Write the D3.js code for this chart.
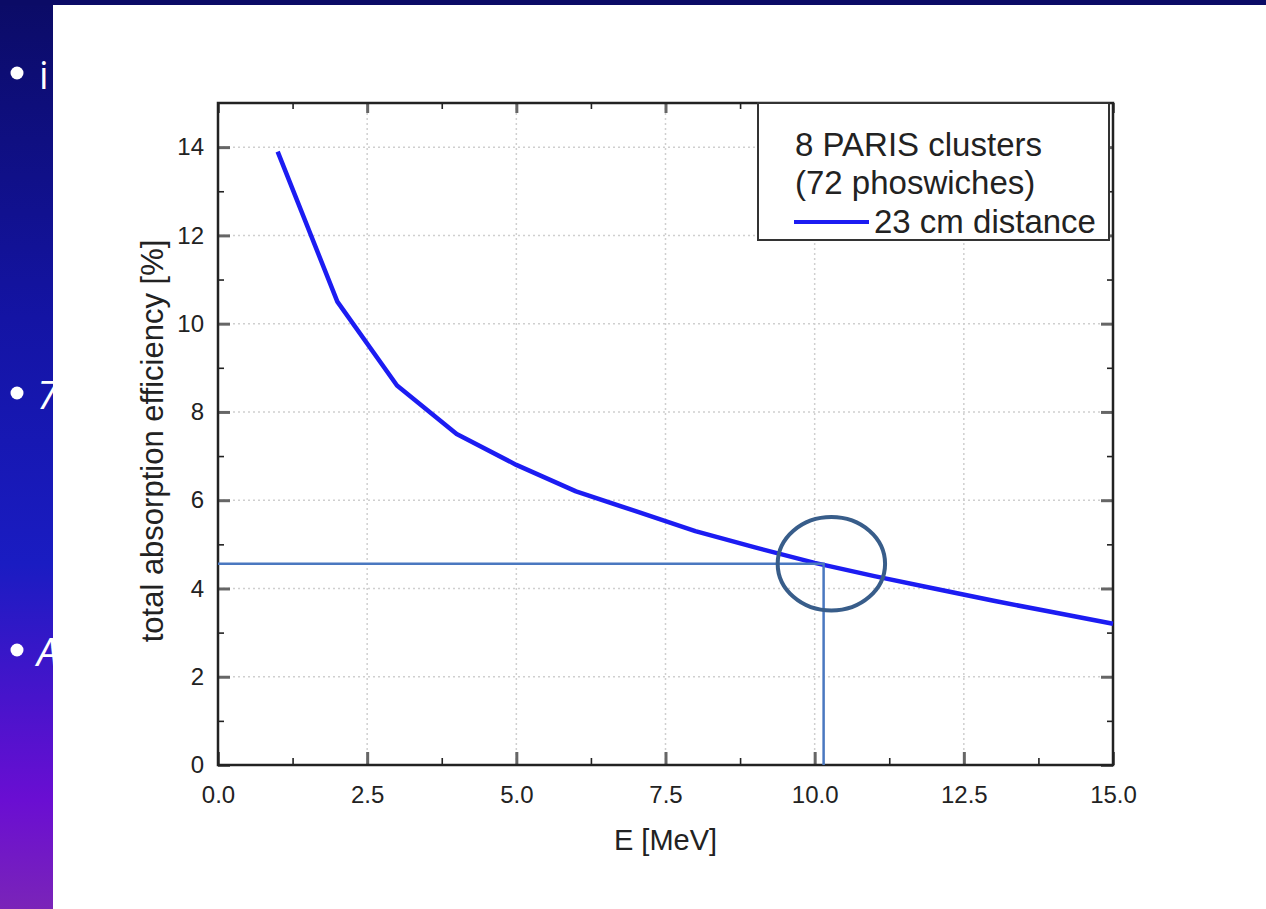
<!DOCTYPE html>
<html>
<head>
<meta charset="utf-8">
<script src="https://cdn.jsdelivr.net/npm/d3@7"></script>
<style>
  html, body { margin: 0; padding: 0; background: #ffffff; }
  svg { display: block; }
</style>
</head>
<body>
<div class="chart-container"></div>
<script>
// Data
const energies = [1, 2, 3, 4, 5, 6, 7, 8, 9, 10, 11, 12, 13, 14, 15];
const efficiency = [13.9, 10.5, 8.6, 7.5, 6.8, 6.2, 5.75, 5.3, 4.93, 4.58, 4.28, 4.0, 3.72, 3.46, 3.2];
const xTicks = [0, 2.5, 5, 7.5, 10, 12.5, 15];
const yTicks = [0, 2, 4, 6, 8, 10, 12, 14];
const legendTitle = ["8 PARIS clusters", "(72 phoswiches)"];
const seriesName = "23 cm distance";
const bullets = ["i", "7", "A"];
// the marked point (10 MeV read-off) and the circle around it
const markE = 10.15;
const markEff = 4.56;
const ringE = 10.28;

const width = 1266;
const height = 909;

// Plot area
const pLeft = 218, pRight = 1113, pTop = 103, pBottom = 765;

const svg = d3
  .select(".chart-container")
  .append("svg")
  .attr("width", width)
  .attr("height", height);

////// Slide background
const grad = svg.append("defs")
  .append("linearGradient")
  .attr("id", "slide-bg")
  .attr("x1", 0).attr("y1", 0).attr("x2", 0).attr("y2", 1);
grad.append("stop").attr("offset", "0%").attr("stop-color", "#0b0b66");
grad.append("stop").attr("offset", "35%").attr("stop-color", "#1414a4");
grad.append("stop").attr("offset", "62%").attr("stop-color", "#1a1cc2");
grad.append("stop").attr("offset", "88%").attr("stop-color", "#6a0ed2");
grad.append("stop").attr("offset", "100%").attr("stop-color", "#7a24b8");

svg.append("rect")
  .attr("width", width)
  .attr("height", height)
  .attr("fill", "url(#slide-bg)");

// bullet points of the slide, mostly hidden behind the picture
const bulletY = [89, 409, 666];
bullets.forEach((b, i) => {
  svg.append("circle")
    .attr("cx", 17)
    .attr("cy", bulletY[i] - 16)
    .attr("r", 6.5)
    .attr("fill", "white");
  svg.append("text")
    .attr("x", i === 0 ? 39 : 37)
    .attr("y", bulletY[i])
    .attr("fill", "white")
    .style("font-family", "'Open Sans', Lato, sans-serif")
    .style("font-size", "38px")
    .style("font-style", i === 0 ? "normal" : "italic")
    .text(b);
});

// white picture pasted on the slide
svg.append("rect")
  .attr("x", 53)
  .attr("y", 5)
  .attr("width", width - 53)
  .attr("height", height - 5)
  .attr("fill", "white");

////// Scales
const x = d3.scaleLinear().domain([0, 15]).range([pLeft, pRight]);
const y = d3.scaleLinear().domain([0, 15]).range([pBottom, pTop]);

const font = "'Liberation Sans', Arial, sans-serif";

// dotted grid
const g = svg.append("g");
g.selectAll(".gx")
  .data(xTicks.slice(1, -1))
  .enter()
  .append("line")
  .attr("x1", (d) => x(d)).attr("x2", (d) => x(d))
  .attr("y1", pTop).attr("y2", pBottom)
  .attr("stroke", "#cfcfcf")
  .attr("stroke-width", 1.5)
  .attr("stroke-dasharray", "2,3");
g.selectAll(".gy")
  .data(yTicks.slice(1))
  .enter()
  .append("line")
  .attr("x1", pLeft).attr("x2", pRight)
  .attr("y1", (d) => y(d)).attr("y2", (d) => y(d))
  .attr("stroke", "#cfcfcf")
  .attr("stroke-width", 1.5)
  .attr("stroke-dasharray", "2,3");

// Axes: ticks point inward on all four sides
const xMinor = d3.range(0, 15.01, 1.25).filter((v) => v % 2.5 !== 0);
const yMinor = d3.range(1, 15, 2);

function tickStyle(sel, major) {
  sel.selectAll(".tick line")
    .attr("stroke", major ? "#666" : "#222")
    .attr("stroke-width", major ? 3 : 1.6);
  sel.select(".domain").remove();
}

const xBottom = svg.append("g").attr("transform", `translate(0,${pBottom})`);
xBottom.call(d3.axisTop(x).tickValues(xTicks).tickSize(13).tickFormat(d3.format(".1f")));
tickStyle(xBottom, true);
xBottom.selectAll(".tick text")
  .attr("y", 38)
  .attr("fill", "#222")
  .style("font-family", font)
  .style("font-size", "24px");

const xBottomMinor = svg.append("g").attr("transform", `translate(0,${pBottom})`);
xBottomMinor.call(d3.axisTop(x).tickValues(xMinor).tickSize(7).tickFormat(""));
tickStyle(xBottomMinor, false);

const xTop = svg.append("g").attr("transform", `translate(0,${pTop})`);
xTop.call(d3.axisBottom(x).tickValues(xTicks).tickSize(10).tickFormat(""));
tickStyle(xTop, true);
const xTopMinor = svg.append("g").attr("transform", `translate(0,${pTop})`);
xTopMinor.call(d3.axisBottom(x).tickValues(xMinor).tickSize(6).tickFormat(""));
tickStyle(xTopMinor, false);

const yLeft = svg.append("g").attr("transform", `translate(${pLeft},0)`);
yLeft.call(d3.axisRight(y).tickValues(yTicks).tickSize(12).tickFormat(d3.format("d")));
tickStyle(yLeft, true);
yLeft.selectAll(".tick text")
  .attr("x", -14)
  .attr("text-anchor", "end")
  .attr("fill", "#222")
  .style("font-family", font)
  .style("font-size", "24px");

const yLeftMinor = svg.append("g").attr("transform", `translate(${pLeft},0)`);
yLeftMinor.call(d3.axisRight(y).tickValues(yMinor).tickSize(6).tickFormat(""));
tickStyle(yLeftMinor, false);

const yRight = svg.append("g").attr("transform", `translate(${pRight},0)`);
yRight.call(d3.axisLeft(y).tickValues(yTicks).tickSize(12).tickFormat(""));
tickStyle(yRight, true);
const yRightMinor = svg.append("g").attr("transform", `translate(${pRight},0)`);
yRightMinor.call(d3.axisLeft(y).tickValues(yMinor).tickSize(6).tickFormat(""));
tickStyle(yRightMinor, false);

// frame
svg.append("rect")
  .attr("x", pLeft).attr("y", pTop)
  .attr("width", pRight - pLeft).attr("height", pBottom - pTop)
  .attr("fill", "none")
  .attr("stroke", "#222")
  .attr("stroke-width", 2.5);

// Axis titles
svg.append("text")
  .attr("x", (pLeft + pRight) / 2)
  .attr("y", 850)
  .attr("text-anchor", "middle")
  .attr("fill", "#222")
  .style("font-family", font)
  .style("font-size", "29px")
  .text("E [MeV]");

svg.append("text")
  .attr("transform", `translate(163,${441}) rotate(-90)`)
  .attr("text-anchor", "middle")
  .attr("fill", "#222")
  .style("font-family", font)
  .style("font-size", "31px")
  .text("total absorption efficiency [%]");

////// Curve
const points = energies.map((e, i) => ({ e: e, v: efficiency[i] }));
const line = d3.line().x((d) => x(d.e)).y((d) => y(d.v));

svg.append("path")
  .datum(points)
  .attr("d", line)
  .attr("fill", "none")
  .attr("stroke", "#1c1cf2")
  .attr("stroke-width", 4.5)
  .attr("stroke-linejoin", "round");

////// Legend
const lg = svg.append("g");
lg.append("rect")
  .attr("x", 758).attr("y", pTop)
  .attr("width", 351).attr("height", 137)
  .attr("fill", "white")
  .attr("stroke", "#333")
  .attr("stroke-width", 2);
legendTitle.forEach((t, i) => {
  lg.append("text")
    .attr("x", 795)
    .attr("y", 156 + i * 38)
    .attr("fill", "#222")
    .style("font-family", font)
    .style("font-size", "33px")
    .text(t);
});
lg.append("line")
  .attr("x1", 794).attr("x2", 869)
  .attr("y1", 222).attr("y2", 222)
  .attr("stroke", "#1c1cf2")
  .attr("stroke-width", 4);
lg.append("text")
  .attr("x", 874)
  .attr("y", 233)
  .attr("fill", "#222")
  .style("font-family", font)
  .style("font-size", "33px")
  .text(seriesName);

////// Annotation: read-off lines and ellipse
svg.append("path")
  .attr("d", `M${x(0)},${y(markEff)}H${x(markE)}V${y(0)}`)
  .attr("fill", "none")
  .attr("stroke", "#4a78c0")
  .attr("stroke-width", 2.5);

svg.append("ellipse")
  .attr("cx", x(ringE))
  .attr("cy", y(markEff))
  .attr("rx", x(ringE + 0.9) - x(ringE))
  .attr("ry", y(markEff) - y(markEff + 1.06))
  .attr("fill", "none")
  .attr("stroke", "#385d8a")
  .attr("stroke-width", 4);

// thin dark band along the top of the slide
svg.append("rect")
  .attr("width", width)
  .attr("height", 5)
  .attr("fill", "#0b0b66");
</script>
</body>
</html>
